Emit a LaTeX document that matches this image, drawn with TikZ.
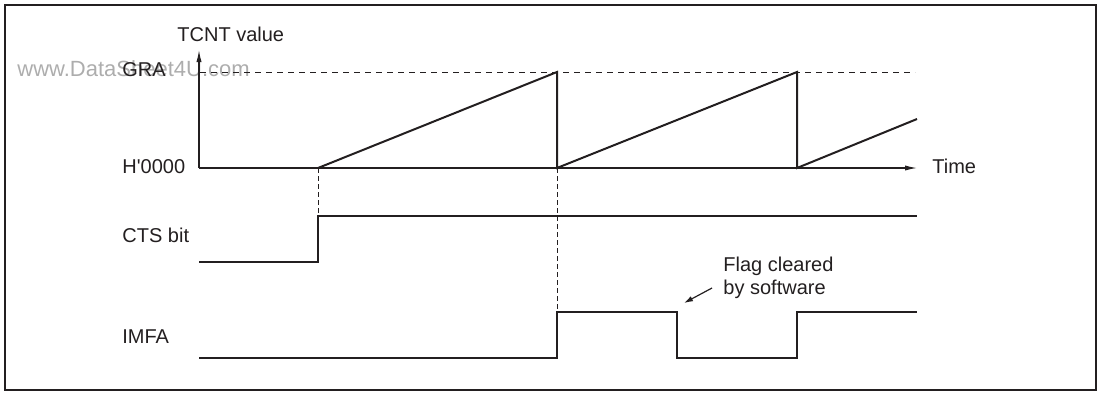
\documentclass[tikz,border=0pt]{standalone}
\usepackage{fontspec}
\setmainfont{Liberation Sans}
\definecolor{ink}{HTML}{231F20}
\definecolor{mark}{HTML}{ADADAD}
\usetikzlibrary{arrows.meta}

\begin{document}
\begin{tikzpicture}[x=0.5pt,y=-0.5pt,every node/.style={font=\fontsize{10}{11.5}\selectfont,text=ink,inner sep=0pt}]
\tikzstyle{axis}=[line width=0.6pt,ink,-{Latex[length=6pt,width=2.6pt]}]
\tikzstyle{wave}=[line width=1pt,ink,line join=miter]
\tikzstyle{guide}=[line width=0.5pt,ink,dash pattern=on 2.3pt off 1.7pt]
\tikzstyle{lbl}=[anchor=base west]
\useasboundingbox (0,0) rectangle (1101,393);
\draw[line width=1pt,ink] (4.5,4.5) rectangle (1095.5,390);
% watermark
\node[lbl,font=\fontsize{11}{13}\selectfont,text=mark] (wm) at (17,76) {www.DataSheet4U.com};
% axes
\coordinate (origin) at (199,168);
\coordinate (ytop) at (199,50);
\coordinate (xend) at (917,168);
\draw[axis] (origin) -- (ytop);
\draw[axis] (origin) -- (xend);
\node[lbl] (tcnt) at (177,41) {TCNT value};
\node[lbl] (gra) at (122,76) {GRA};
\node[lbl] (zero) at (122,173) {H\textquotesingle 0000};
\node[lbl] (time) at (932,173) {Time};
\node[lbl] (cts) at (122,242) {CTS bit};
\node[lbl] (imfa) at (122,343) {IMFA};
\draw[line width=0.5pt,ink,dash pattern=on 3pt off 2.5pt] (200,72) -- (915,72);
% counter
\draw[wave] (318,168) -- (557,72) -- (557,168) -- (797,72) -- (797,168) -- (917,119);
% CTS bit and IMFA
\draw[wave] (199,262) -- (318,262) -- (318,216) -- (917,216);
\draw[wave] (199,358) -- (557,358) -- (557,312) -- (677,312) -- (677,358) -- (797,358) -- (797,312) -- (917,312);
\draw[guide] (318,168) -- (318,216);
\draw[guide] (557,168) -- (557,312);
% flag note
\node[anchor=north west,align=left] (flag) at (723,257) {Flag cleared\\by software};
\coordinate (flagtail) at (712,288);
\coordinate (flagtip) at (684,303);
\draw[line width=0.6pt,ink,-{Latex[length=4.5pt,width=2.8pt]}] (flagtail) -- (flagtip);
\end{tikzpicture}
\end{document}
